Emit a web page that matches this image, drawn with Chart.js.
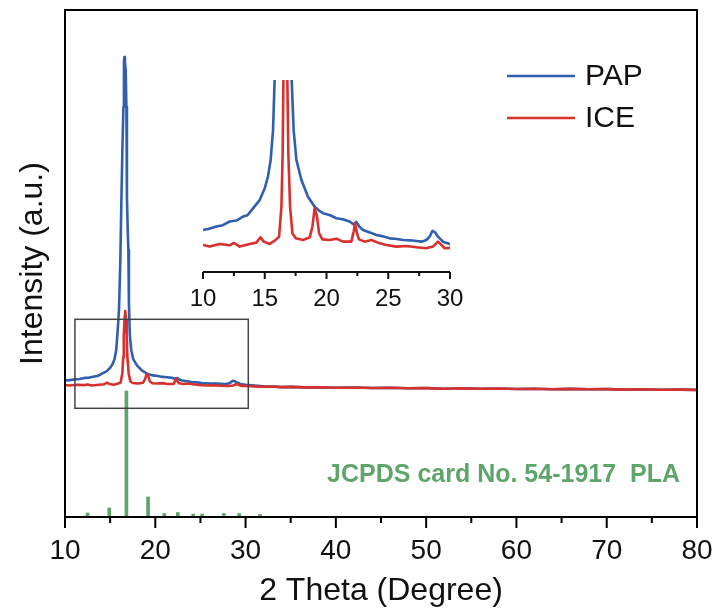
<!DOCTYPE html>
<html>
<head>
<meta charset="utf-8">
<script src="https://cdn.jsdelivr.net/npm/chart.js@4.4.1/dist/chart.umd.min.js"></script>
<style>
  body { margin: 0; background: #fff; }
  #wrap { position: relative; width: 721px; height: 615px; }
  canvas { position: absolute; display: block; }
</style>
</head>
<body>
<div id="wrap">
  <canvas id="chart" width="721" height="615" style="left:0;top:0"></canvas>
  <canvas id="inset" width="290" height="250" style="left:183px;top:70px"></canvas>
</div>
<script>
const FONT = "'Liberation Sans', Arial, sans-serif"
const BLUE = '#2f5fae'
const RED = '#d8302d'
const GREEN = '#5ea56b'

// 2 theta (deg) and intensity (a.u.)
const papTheta = [
  10.0, 10.5, 11.08, 11.6, 12.16, 12.7, 13.24, 13.6, 14.05, 14.59,
  15.0, 15.26, 15.48, 15.67, 15.8, 15.98, 16.13, 16.24, 16.35, 16.47,
  16.53, 16.58, 16.64, 16.72, 16.8, 16.86, 16.95, 17.02, 17.08, 17.18,
  17.34, 17.56, 17.97, 18.5, 19.04, 19.4, 19.72, 20.3, 20.8, 21.3,
  21.88, 22.2, 22.42, 22.65, 22.96, 23.5, 24.04, 24.6, 25.12, 25.7,
  26.2, 26.8, 27.28, 27.7, 28.09, 28.35, 28.58, 28.8, 29.03, 29.43,
  29.98, 31, 32, 33, 34, 35, 36.5, 38, 40, 42,
  44, 46, 48, 50, 52, 54, 56, 58, 60, 62,
  64, 66, 68, 70, 72, 74, 76, 78, 80
]
const papIntensity = [
  136.5, 136.9, 137.6, 138.0, 139.1, 139.4, 140.6, 141.0, 143.1, 145.6,
  149.2, 152.7, 157.8, 166.8, 182, 207, 257, 314, 364, 410,
  455, 460, 455, 447, 410, 320, 285, 267, 214, 182,
  166.8, 157.8, 151.7, 146.6, 143.6, 142.4, 141.6, 141.0, 140.1, 139.8,
  139.1, 138.2, 139.0, 137.6, 136.5, 135.8, 135.0, 134.6, 134.0, 133.8,
  133.5, 133.4, 133.2, 133.0, 133.5, 134.5, 136.3, 135.8, 134.5, 133.0,
  132.3, 131.4, 130.6, 130.5, 129.9, 130.1, 129.6, 129.8, 129.3, 129.5,
  129.0, 129.2, 128.7, 128.9, 128.3, 128.8, 128.2, 128.5, 128.0, 128.3,
  127.8, 128.1, 127.7, 127.9, 127.4, 127.7, 127.2, 127.4, 127.1
]

const iceTheta = [
  10.0, 10.54, 11.35, 12.16, 12.5, 12.97, 13.78, 14.32, 14.65, 14.92,
  15.4, 15.81, 16.16, 16.35, 16.45, 16.51, 16.6, 16.68, 16.76, 16.83,
  16.91, 17.05, 17.24, 17.51, 18.1, 18.64, 18.86, 19.04, 19.23, 19.4,
  19.67, 20.26, 20.8, 21.34, 22.01, 22.2, 22.31, 22.47, 22.63, 23.09,
  23.63, 24.17, 24.84, 25.66, 26.46, 27.27, 28.08, 28.62, 29.03, 29.3,
  29.57, 29.97, 31, 32, 33, 34, 35, 36.5, 38, 40,
  42, 44, 46, 48, 50, 52, 54, 56, 58, 60,
  62, 64, 66, 68, 70, 72, 74, 76, 78, 80
]
const iceIntensity = [
  132.0, 131.5, 132.3, 131.9, 132.6, 131.5, 132.3, 132.7, 134.3, 133.0,
  132.3, 133.3, 134.5, 143.6, 159.8, 182, 198, 206, 197, 182,
  159.8, 143.6, 135.5, 134.0, 133.5, 134.3, 137.6, 143.1, 140.6, 135.5,
  133.7, 133.5, 133.9, 133.0, 133.0, 136.0, 138.6, 135.5, 133.7, 133.0,
  133.5, 132.7, 132.0, 131.5, 131.7, 131.3, 131.0, 131.5, 133.0, 132.0,
  131.0, 131.1, 130.6, 130.2, 130.5, 129.9, 130.1, 129.6, 129.8, 129.3,
  129.5, 129.0, 129.2, 128.7, 128.9, 128.3, 128.8, 128.2, 128.5, 128.0,
  128.3, 127.8, 128.1, 127.7, 127.9, 127.4, 127.7, 127.2, 127.4, 127.1
]

// JCPDS 54-1917 reference lines
const pdfTheta = [12.5, 14.9, 16.8, 19.2, 21.0, 22.5, 24.2, 25.2, 27.6, 29.3, 31.6]
const pdfIntensity = [4, 9, 126, 20, 3.5, 4.5, 3, 3, 3.5, 3.5, 2.5]
const cardLabel = 'JCPDS card No. 54-1917  PLA'

// region shown enlarged in the inset: [x0, x1, y0, y1]
const zoomBox = [11.1, 30.3, 108.7, 197.7]

const toPoints = (xs, ys) => xs.map((x, i) => ({ x: x, y: ys[i] }))

const lineSet = (label, xs, ys, color, order) => ({
  label: label,
  data: toPoints(xs, ys),
  borderColor: color,
  backgroundColor: color,
  borderWidth: 2.6,
  pointRadius: 0,
  borderJoinStyle: 'round',
  tension: 0,
  order: order
})

// keep tick label padding from eating into the plot width
const fixAxis = h => s => {
  s.height = h
  s.paddingLeft = 0
  s.paddingRight = 0
}

const mainDecor = {
  id: 'mainDecor',
  afterDraw(chart) {
    const { ctx, chartArea: a, scales: { x, y } } = chart
    ctx.save()
    // zoom rectangle
    ctx.strokeStyle = '#444'
    ctx.lineWidth = 1.5
    const bx0 = x.getPixelForValue(zoomBox[0]), bx1 = x.getPixelForValue(zoomBox[1])
    const by0 = y.getPixelForValue(zoomBox[2]), by1 = y.getPixelForValue(zoomBox[3])
    ctx.strokeRect(bx0, by1, bx1 - bx0, by0 - by1)
    // frame
    ctx.strokeStyle = '#000'
    ctx.lineWidth = 2
    ctx.strokeRect(a.left, a.top, a.right - a.left, a.bottom - a.top)
    // ticks
    x.ticks.forEach(t => {
      const px = x.getPixelForValue(t.value)
      const len = t.value % 10 === 0 ? 11 : 6
      ctx.beginPath()
      ctx.moveTo(px, a.bottom)
      ctx.lineTo(px, a.bottom + len)
      ctx.stroke()
    })
    // legend
    ctx.font = '30px ' + FONT
    ctx.textAlign = 'left'
    ctx.textBaseline = 'alphabetic'
    chart.data.datasets.slice(0, 2).forEach((ds, i) => {
      const ly = a.top + 66 + i * 42
      ctx.strokeStyle = ds.borderColor
      ctx.lineWidth = 2.6
      ctx.beginPath()
      ctx.moveTo(a.right - 190, ly)
      ctx.lineTo(a.right - 122, ly)
      ctx.stroke()
      ctx.fillStyle = '#111'
      ctx.fillText(ds.label, a.right - 112, ly + 9)
    })
    // card label
    ctx.fillStyle = GREEN
    ctx.font = 'bold 25px ' + FONT
    ctx.textAlign = 'right'
    ctx.fillText(cardLabel, a.right - 17, a.bottom - 35)
    ctx.restore()
  }
}

const insetAxis = {
  id: 'insetAxis',
  afterDraw(chart) {
    const { ctx, chartArea: a, scales: { x } } = chart
    ctx.save()
    ctx.strokeStyle = '#111'
    ctx.lineWidth = 2
    ctx.beginPath()
    ctx.moveTo(a.left, a.bottom)
    ctx.lineTo(a.right, a.bottom)
    ctx.stroke()
    x.ticks.forEach(t => {
      const px = x.getPixelForValue(t.value)
      const len = t.value % 5 === 0 ? 7 : 4
      ctx.beginPath()
      ctx.moveTo(px, a.bottom)
      ctx.lineTo(px, a.bottom + len)
      ctx.stroke()
    })
    ctx.restore()
  }
}

new Chart(document.getElementById('chart'), {
  type: 'line',
  data: {
    datasets: [
      lineSet('PAP', papTheta, papIntensity, BLUE, 2),
      lineSet('ICE', iceTheta, iceIntensity, RED, 1),
      {
        type: 'bar',
        label: 'JCPDS',
        data: toPoints(pdfTheta, pdfIntensity),
        backgroundColor: GREEN,
        barThickness: 3,
        order: 3
      }
    ]
  },
  options: {
    responsive: false,
    animation: false,
    layout: { padding: { top: 10, right: 24, left: 0, bottom: 0 } },
    plugins: { legend: { display: false }, tooltip: { enabled: false } },
    scales: {
      x: {
        type: 'linear',
        min: 10,
        max: 80,
        offset: false,
        grid: { display: false, drawTicks: false },
        border: { display: false },
        ticks: {
          stepSize: 5,
          autoSkip: false,
          maxRotation: 0,
          padding: 17,
          color: '#111',
          font: { size: 28, family: FONT },
          callback: v => (v % 10 === 0 ? v : '')
        },
        title: {
          display: true,
          text: '2 Theta (Degree)',
          color: '#111',
          font: { size: 32, family: FONT },
          padding: { top: 0, bottom: 5 }
        },
        afterFit: fixAxis(98)
      },
      y: {
        min: 0,
        max: 507,
        grid: { display: false },
        border: { display: false },
        ticks: { display: false },
        title: {
          display: true,
          text: 'Intensity (a.u.)',
          color: '#111',
          font: { size: 32, family: FONT },
          padding: { top: 14, bottom: 0 }
        },
        afterFit: s => { s.width = 65 }
      }
    }
  },
  plugins: [mainDecor]
})

new Chart(document.getElementById('inset'), {
  type: 'line',
  data: {
    datasets: [
      lineSet('PAP', papTheta, papIntensity, BLUE, 2),
      lineSet('ICE', iceTheta, iceIntensity, RED, 1)
    ]
  },
  options: {
    responsive: false,
    animation: false,
    layout: { padding: { top: 10, right: 23, left: 20, bottom: 0 } },
    plugins: { legend: { display: false }, tooltip: { enabled: false } },
    scales: {
      x: {
        type: 'linear',
        min: 10,
        max: 30,
        grid: { display: false, drawTicks: false },
        border: { display: false },
        ticks: {
          stepSize: 2.5,
          autoSkip: false,
          maxRotation: 0,
          padding: 13,
          color: '#111',
          font: { size: 24, family: FONT },
          callback: v => (v % 5 === 0 ? v : '')
        },
        afterFit: fixAxis(48)
      },
      y: { display: false, min: 123.8, max: 182 }
    }
  },
  plugins: [insetAxis]
})
</script>
</body>
</html>
